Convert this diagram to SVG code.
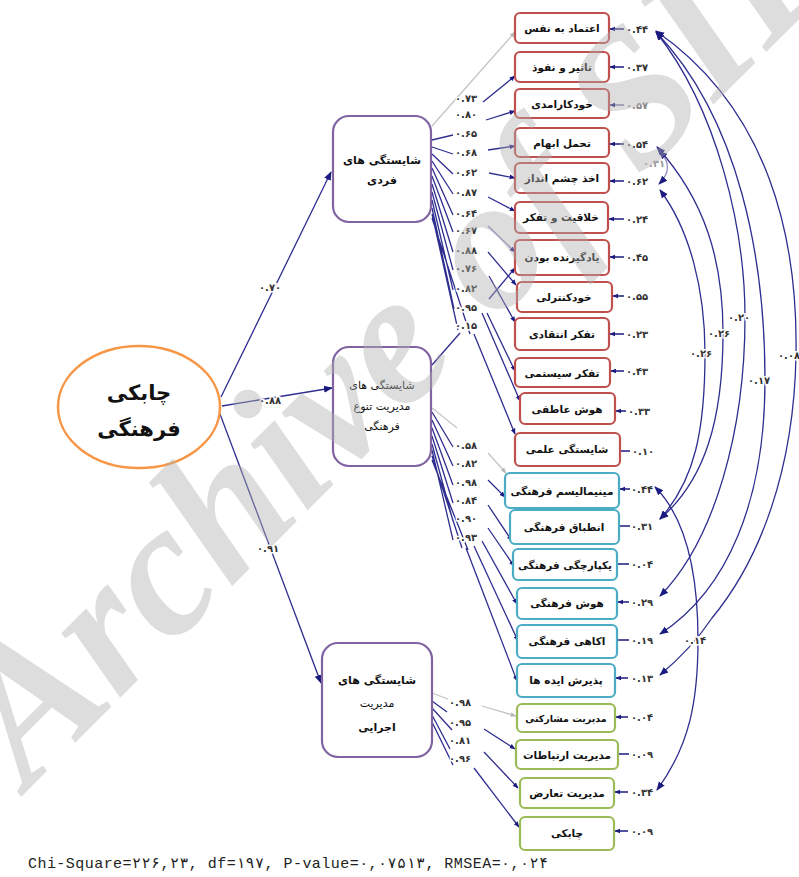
<svg xmlns="http://www.w3.org/2000/svg" width="799" height="877" viewBox="0 0 799 877">
<style>
.bg{fill:#ffffff}
.red{fill:#fff;stroke:#C0504D;stroke-width:2.2}
.blue{fill:#fff;stroke:#4BACC6;stroke-width:2.2}
.green{fill:#fff;stroke:#9BBB59;stroke-width:2.2}
.lat{fill:#fff;stroke:#8064A2;stroke-width:2.2}
.bt{font-family:"DejaVu Sans",sans-serif;font-size:10.5px;font-weight:bold;fill:#111;text-anchor:middle}
.lt{font-family:"DejaVu Sans",sans-serif;font-size:11px;font-weight:bold;fill:#111;text-anchor:middle}
.ln{fill:none;stroke:#2e2e90;stroke-width:1.3}
.gl{fill:none;stroke:#c4c4c4;stroke-width:1.3}
.cv{fill:none;stroke:#2e2e90;stroke-width:1.3}
.num{font-family:"DejaVu Sans",sans-serif;font-size:10px;font-weight:bold;fill:#333;letter-spacing:1px;paint-order:stroke;stroke:#fff;stroke-width:3px}
.err{font-family:"DejaVu Sans",sans-serif;font-size:10px;font-weight:bold;fill:#333;letter-spacing:1px}
.ea{stroke:#1a1a80;stroke-width:1.5}
.wm{font-family:"Liberation Serif",serif;font-weight:bold;font-style:italic;font-size:190px;fill:#b0b0b0;opacity:0.42}
</style>
<defs>
<marker id="ah" viewBox="0 0 10 10" refX="9" refY="5" markerWidth="9" markerHeight="9" markerUnits="userSpaceOnUse" orient="auto-start-reverse"><path d="M0,1 L10,5 L0,9 z" fill="#1a1a80"/></marker>
<marker id="sm" viewBox="0 0 10 10" refX="9" refY="5" markerWidth="6" markerHeight="6" markerUnits="userSpaceOnUse" orient="auto"><path d="M0,1 L10,5 L0,9 z" fill="#1a1a80"/></marker>
<marker id="smg" viewBox="0 0 10 10" refX="9" refY="5" markerWidth="6" markerHeight="6" markerUnits="userSpaceOnUse" orient="auto"><path d="M0,1 L10,5 L0,9 z" fill="#b8b8b8"/></marker>
</defs>
<rect class="bg" x="0" y="0" width="799" height="877"/>

<g id="connectors">
  <!-- second order -->
  <line class="ln" x1="221" y1="397" x2="331" y2="172" marker-end="url(#ah)"/>
  <line class="ln" x1="222" y1="406" x2="332" y2="388" marker-end="url(#ah)"/>
  <line class="ln" x1="220" y1="414" x2="321" y2="683" marker-end="url(#ah)"/>
  <!-- individual fan -->
  <line class="gl" x1="432" y1="126" x2="515" y2="32" marker-end="url(#smg)"/>
  <path class="ln" d="M432,140 L453,135 M432,147 L453,154 M432,154 L453,174 M432,161 L453,194 M432,168 L453,215 M432,176 L453,232 M432,184 L453,252 M432,192 L453,270 M432,200 L453,290 M432,208 L454,309 M432,214 L458,330 M432,218 L470,334"/>
  <line class="ln" x1="483" y1="102" x2="515" y2="76" marker-end="url(#sm)"/>
  <line class="ln" x1="486" y1="120" x2="515" y2="111" marker-end="url(#sm)"/>
  <line class="ln" x1="488" y1="150" x2="515" y2="146" marker-end="url(#sm)"/>
  <line class="ln" x1="489" y1="173" x2="515" y2="178" marker-end="url(#sm)"/>
  <line class="ln" x1="488" y1="197" x2="515" y2="211" marker-end="url(#sm)"/>
  <line class="ln" x1="488" y1="226" x2="515" y2="252" style="stroke:#8a8ac0" marker-end="url(#sm)"/>
  <line class="ln" x1="488" y1="252" x2="516" y2="285" marker-end="url(#sm)"/>
  <line class="ln" x1="489" y1="276" x2="515" y2="322" marker-end="url(#sm)"/>
  <line class="ln" x1="489" y1="299" x2="515" y2="268" marker-end="url(#sm)"/>
  <line class="ln" x1="482" y1="313" x2="520" y2="401" marker-end="url(#sm)"/>
  <line class="ln" x1="487" y1="313" x2="515" y2="371" marker-end="url(#sm)"/>
  <line class="ln" x1="474" y1="334" x2="515" y2="434" marker-end="url(#sm)"/>
  <!-- diversity fan -->
  <line class="ln" x1="432" y1="365" x2="460" y2="333"/>
  <line class="gl" x1="432" y1="408" x2="457" y2="428"/>
  <line class="gl" x1="488" y1="453" x2="506" y2="473" marker-end="url(#smg)"/>
  <path class="ln" d="M432,412 L453,447 M432,420 L453,466 M432,428 L453,485 M432,436 L453,503 M432,444 L453,521 M432,450 L453,540 M432,456 L462,548 M432,460 L468,550"/>
  <line class="ln" x1="488" y1="480" x2="505" y2="497" marker-end="url(#sm)"/>
  <line class="ln" x1="488" y1="505" x2="512" y2="541" marker-end="url(#sm)"/>
  <line class="ln" x1="488" y1="528" x2="514" y2="566" marker-end="url(#sm)"/>
  <line class="ln" x1="482" y1="541" x2="517" y2="604" marker-end="url(#sm)"/>
  <line class="ln" x1="474" y1="546" x2="518" y2="641" marker-end="url(#sm)"/>
  <line class="ln" x1="466" y1="548" x2="517" y2="681" marker-end="url(#sm)"/>
  <!-- executive fan -->
  <line class="gl" x1="432" y1="693" x2="448" y2="699"/>
  <line class="gl" x1="482" y1="706" x2="516" y2="716" marker-end="url(#smg)"/>
  <path class="ln" d="M432,701 L447,712 M432,708 L452,730 M432,715 L450,749 M432,722 L453,765"/>
  <line class="ln" x1="484" y1="729" x2="515" y2="749" marker-end="url(#sm)"/>
  <line class="ln" x1="484" y1="752" x2="518" y2="788" marker-end="url(#sm)"/>
  <line class="ln" x1="474" y1="768" x2="519" y2="827" marker-end="url(#sm)"/>
  <!-- error arrows -->
  <g class="ea">
    <line x1="624" y1="29" x2="610" y2="29" marker-end="url(#sm)"/>
    <line x1="624" y1="67" x2="610" y2="67" marker-end="url(#sm)"/>
    <line x1="624" y1="105" x2="610" y2="105" marker-end="url(#sm)" style="stroke:#7a7ab0"/>
    <line x1="624" y1="144" x2="610" y2="144" marker-end="url(#sm)"/>
    <line x1="624" y1="181" x2="610" y2="181" marker-end="url(#sm)"/>
    <line x1="624" y1="219" x2="609" y2="219" marker-end="url(#sm)"/>
    <line x1="624" y1="257" x2="610" y2="257" marker-end="url(#sm)"/>
    <line x1="624" y1="296" x2="613" y2="296" marker-end="url(#sm)"/>
    <line x1="624" y1="334" x2="610" y2="334" marker-end="url(#sm)"/>
    <line x1="624" y1="371" x2="611" y2="371" marker-end="url(#sm)"/>
    <line x1="626" y1="411" x2="616" y2="411" marker-end="url(#sm)"/>
    <line x1="630" y1="451" x2="621" y2="451"/>
    <line x1="630" y1="489" x2="620" y2="489" marker-end="url(#sm)"/>
    <line x1="630" y1="526" x2="620" y2="526"/>
    <line x1="629" y1="564" x2="618" y2="564"/>
    <line x1="629" y1="602" x2="618" y2="602" marker-end="url(#sm)"/>
    <line x1="629" y1="640" x2="618" y2="640"/>
    <line x1="628" y1="678" x2="616" y2="678" marker-end="url(#sm)"/>
    <line x1="628" y1="717" x2="616" y2="717" marker-end="url(#sm)"/>
    <line x1="629" y1="754" x2="618" y2="754"/>
    <line x1="628" y1="792" x2="615" y2="792" marker-end="url(#sm)"/>
    <line x1="628" y1="831" x2="615" y2="831" marker-end="url(#sm)"/>
  </g>
  <!-- error covariances -->
  <path class="cv" d="M656,32 C718,110 745,230 745,317 C745,430 715,540 660,596" marker-start="url(#ah)" marker-end="url(#ah)"/>
  <path class="cv" d="M656,32 C740,120 765,260 765,380 C765,500 728,590 660,634" marker-start="url(#ah)" marker-end="url(#ah)"/>
  <path class="cv" d="M656,31 C770,110 798,240 796,355 C794,470 760,560 712,618 Q692,648 660,675" marker-start="url(#ah)" marker-end="url(#ah)"/>
  <path class="cv" d="M657,147 C705,200 723,260 723,333 C723,420 705,480 660,519" marker-start="url(#ah)" marker-end="url(#ah)"/>
  <path class="cv" d="M660,190 C690,230 705,290 705,353 C705,430 695,480 660,519" marker-start="url(#ah)" marker-end="url(#ah)"/>
  <path class="cv" d="M655,487 C688,520 698,580 698,640 C698,700 690,745 657,790" marker-start="url(#ah)" marker-end="url(#ah)"/>
  <path class="cv" d="M659,151 Q676,167 659,184" style="stroke:#9090c0" marker-start="url(#ah)" marker-end="url(#ah)"/>
</g>

<g id="num-labels">
  <text class="num" x="259" y="291">۰.۷۰</text>
  <text class="num" x="259" y="404">۰.۸۸</text>
  <text class="num" x="257" y="552">۰.۹۱</text>
  <text class="num" x="455" y="102">۰.۷۳</text>
  <text class="num" x="455" y="118">۰.۸۰</text>
  <text class="num" x="455" y="137">۰.۶۵</text>
  <text class="num" x="455" y="156">۰.۶۸</text>
  <text class="num" x="455" y="176">۰.۶۲</text>
  <text class="num" x="455" y="196">۰.۸۷</text>
  <text class="num" x="455" y="217">۰.۶۴</text>
  <text class="num" x="455" y="234">۰.۶۷</text>
  <text class="num" x="455" y="254">۰.۸۸</text>
  <text class="num" x="455" y="272">۰.۷۶</text>
  <text class="num" x="455" y="292">۰.۸۲</text>
  <text class="num" x="455" y="311">۰.۹۵</text>
  <text class="num" x="455" y="329">۰.۱۵</text>
  <text class="num" x="455" y="449">۰.۵۸</text>
  <text class="num" x="455" y="467">۰.۸۲</text>
  <text class="num" x="455" y="486">۰.۹۸</text>
  <text class="num" x="455" y="504">۰.۸۴</text>
  <text class="num" x="455" y="522">۰.۹۰</text>
  <text class="num" x="455" y="541">۰.۹۳</text>
  <text class="num" x="449" y="706">۰.۹۸</text>
  <text class="num" x="449" y="726">۰.۹۵</text>
  <text class="num" x="449" y="744">۰.۸۱</text>
  <text class="num" x="449" y="762">۰.۹۶</text>
  <text class="num" x="728" y="321">۰.۲۰</text>
  <text class="num" x="748" y="384">۰.۱۷</text>
  <text class="num" x="778" y="359">۰.۰۸</text>
  <text class="num" x="708" y="337">۰.۲۶</text>
  <text class="num" x="690" y="357">۰.۲۶</text>
  <text class="num" x="684" y="644">۰.۱۴</text>
  <text class="num" x="643" y="167" style="fill:#999">۰.۳۱</text>
</g>

<g id="error-values">
  <text class="err" x="626" y="33">۰.۴۴</text>
  <text class="err" x="626" y="71">۰.۳۷</text>
  <text class="err" x="626" y="109" style="fill:#888">۰.۵۷</text>
  <text class="err" x="626" y="148">۰.۵۴</text>
  <text class="err" x="626" y="185">۰.۶۲</text>
  <text class="err" x="626" y="223">۰.۲۴</text>
  <text class="err" x="626" y="261">۰.۴۵</text>
  <text class="err" x="626" y="300">۰.۵۵</text>
  <text class="err" x="626" y="338">۰.۲۳</text>
  <text class="err" x="626" y="375">۰.۴۳</text>
  <text class="err" x="628" y="415">۰.۳۳</text>
  <text class="err" x="632" y="455">۰.۱۰</text>
  <text class="err" x="631" y="493">۰.۴۴</text>
  <text class="err" x="631" y="530">۰.۳۱</text>
  <text class="err" x="631" y="568">۰.۰۴</text>
  <text class="err" x="631" y="606">۰.۲۹</text>
  <text class="err" x="631" y="644">۰.۱۹</text>
  <text class="err" x="631" y="682">۰.۱۳</text>
  <text class="err" x="631" y="721">۰.۰۴</text>
  <text class="err" x="631" y="758">۰.۰۹</text>
  <text class="err" x="631" y="796">۰.۳۴</text>
  <text class="err" x="631" y="835">۰.۰۹</text>
</g>

<g id="n-agility">
  <ellipse cx="139" cy="407" rx="81" ry="61" fill="#fff" stroke="#F79646" stroke-width="2.5"/>
  <text x="139" y="400" font-family="DejaVu Sans, sans-serif" font-size="21" font-weight="bold" text-anchor="middle" fill="#111">چابکی</text>
  <text x="139" y="436" font-family="DejaVu Sans, sans-serif" font-size="21" font-weight="bold" text-anchor="middle" fill="#111">فرهنگی</text>
</g>
<g id="n-individual">
  <rect class="lat" x="333" y="116" width="98" height="106" rx="16"/>
  <text class="lt" x="382" y="164">شایستگی های</text>
  <text class="lt" x="382" y="184">فردی</text>
</g>
<g id="n-diversity">
  <rect class="lat" x="333" y="347" width="98" height="119" rx="16"/>
  <text class="lt" x="382" y="389" style="font-weight:normal">شایستگی های</text>
  <text class="lt" x="382" y="410" style="font-weight:normal">مدیریت تنوع</text>
  <text class="lt" x="382" y="430" style="font-weight:normal">فرهنگی</text>
</g>
<g id="n-executive">
  <rect class="lat" x="322" y="643" width="110" height="114" rx="16"/>
  <text class="lt" x="377" y="684">شایستگی های</text>
  <text class="lt" x="377" y="707" style="font-weight:normal">مدیریت</text>
  <text class="lt" x="377" y="731">اجرایی</text>
</g>

<g id="n1"><rect class="red" x="515" y="13" width="94" height="30" rx="5"/><text class="bt" x="562" y="32">اعتماد به نفس</text></g>
<g id="n2"><rect class="red" x="515" y="52" width="94" height="30" rx="5"/><text class="bt" x="562" y="71">تاثیر و نفوذ</text></g>
<g id="n3"><rect class="red" x="515" y="89" width="94" height="29" rx="5"/><text class="bt" x="562" y="108">خودکارامدی</text></g>
<g id="n4"><rect class="red" x="515" y="128" width="94" height="29" rx="5"/><text class="bt" x="562" y="147">تحمل ابهام</text></g>
<g id="n5"><rect class="red" x="515" y="163" width="94" height="30" rx="5"/><text class="bt" x="562" y="182">اخذ چشم انداز</text></g>
<g id="n6"><rect class="red" x="515" y="202" width="93" height="31" rx="5"/><text class="bt" x="561" y="221">خلاقیت و تفکر</text></g>
<g id="n7"><rect class="red" x="515" y="240" width="94" height="35" rx="5"/><text class="bt" x="562" y="261">یادگیرنده بودن</text></g>
<g id="n8"><rect class="red" x="517" y="282" width="95" height="30" rx="5"/><text class="bt" x="564" y="301">خودکنترلی</text></g>
<g id="n9"><rect class="red" x="515" y="318" width="94" height="32" rx="5"/><text class="bt" x="562" y="338">تفکر انتقادی</text></g>
<g id="n10"><rect class="red" x="515" y="358" width="95" height="29" rx="5"/><text class="bt" x="562" y="377">تفکر سیستمی</text></g>
<g id="n11"><rect class="red" x="520" y="393" width="95" height="31" rx="5"/><text class="bt" x="567" y="413">هوش عاطفی</text></g>
<g id="n12"><rect class="red" x="515" y="433" width="105" height="33" rx="5"/><text class="bt" x="567" y="453">شایستگی علمی</text></g>
<g id="n13"><rect class="blue" x="505" y="473" width="114" height="35" rx="5"/><text class="bt" x="562" y="495">مینیمالیسم فرهنگی</text></g>
<g id="n14"><rect class="blue" x="510" y="510" width="109" height="34" rx="5"/><text class="bt" x="564" y="531">انطباق فرهنگی</text></g>
<g id="n15"><rect class="blue" x="513" y="549" width="104" height="31" rx="5"/><text class="bt" x="565" y="569">یکپارچگی فرهنگی</text></g>
<g id="n16"><rect class="blue" x="517" y="588" width="100" height="31" rx="5"/><text class="bt" x="567" y="607">هوش فرهنگی</text></g>
<g id="n17"><rect class="blue" x="517" y="625" width="100" height="33" rx="5"/><text class="bt" x="567" y="645">اکاهی فرهنگی</text></g>
<g id="n18"><rect class="blue" x="517" y="664" width="98" height="33" rx="5"/><text class="bt" x="566" y="684">پذیرش ایده ها</text></g>
<g id="n19"><rect class="green" x="517" y="704" width="98" height="28" rx="5"/><text class="bt" x="566" y="722" style="font-size:9.5px">مدیریت مشارکتی</text></g>
<g id="n20"><rect class="green" x="516" y="740" width="102" height="29" rx="5"/><text class="bt" x="567" y="759">مدیریت ارتباطات</text></g>
<g id="n21"><rect class="green" x="520" y="778" width="94" height="30" rx="5"/><text class="bt" x="567" y="797">مدیریت تعارض</text></g>
<g id="n22"><rect class="green" x="520" y="817" width="94" height="33" rx="5"/><text class="bt" x="567" y="837">چابکی</text></g>

<text x="28" y="868" font-family="Liberation Mono, DejaVu Sans Mono, monospace" font-size="15" fill="#222" textLength="520" lengthAdjust="spacing">Chi-Square=۲۲۶,۲۳, df=۱۹۷, P-value=۰,۰۷۵۱۳, RMSEA=۰,۰۲۴</text>

<text class="wm" transform="translate(28,790) rotate(-45)">Archive of SID</text>
</svg>
